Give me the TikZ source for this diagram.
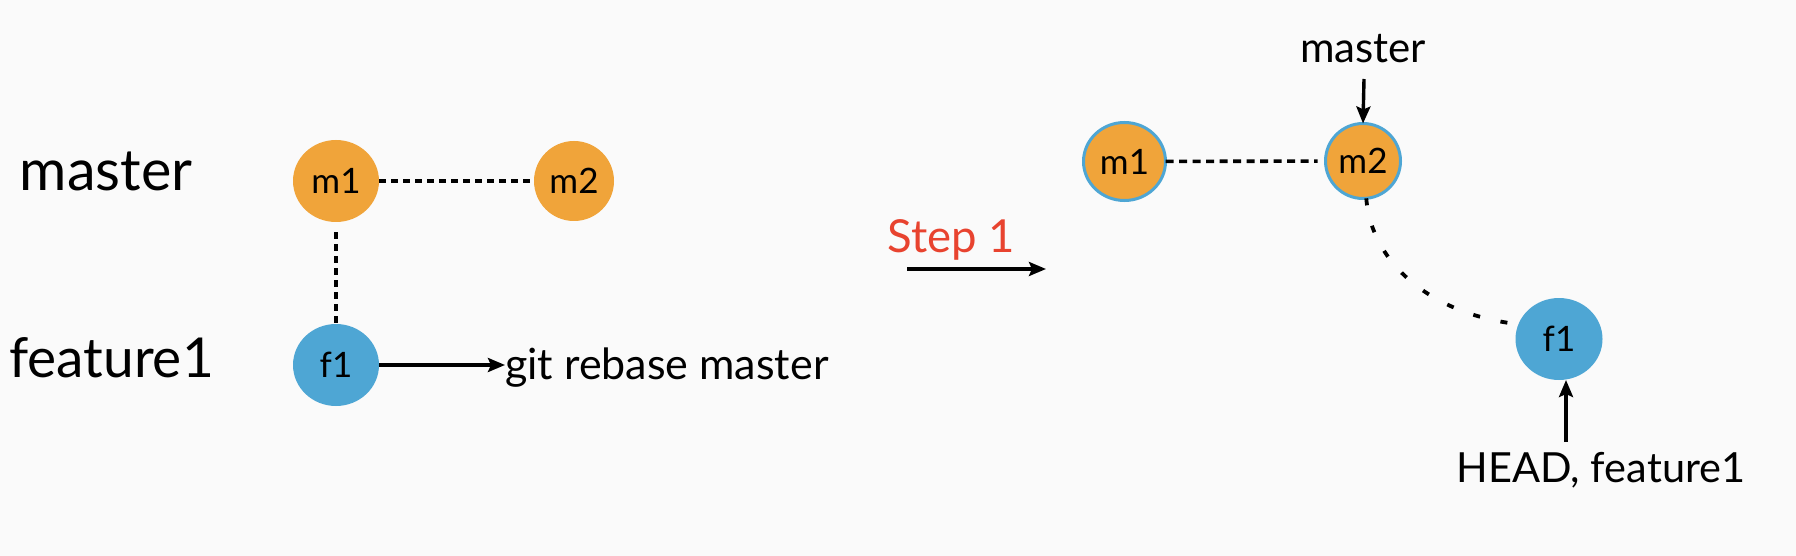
\documentclass[tikz,border=0pt]{standalone}
\usepackage{fontspec}
\setmainfont{Lato}
\usetikzlibrary{arrows.meta,shapes.geometric}
\definecolor{bgc}{HTML}{FAFAFA}
\definecolor{orangec}{HTML}{F0A43A}
\definecolor{bluec}{HTML}{4EA6D4}
\definecolor{stepred}{HTML}{E8432F}
\begin{document}
\begin{tikzpicture}[x=1pt,y=-1pt,
  gitcommit/.style={ellipse, inner sep=0pt, outer sep=0pt, font=\fontsize{35}{40}\selectfont},
  mcommit/.style={gitcommit, fill=orangec},
  fcommit/.style={gitcommit, fill=bluec},
  ringed/.style={draw=bluec, line width=3pt},
  dashlink/.style={line width=3.6pt, dash pattern=on 6.5pt off 5.5pt},
  curvelink/.style={line width=3.8pt, dash pattern=on 7pt off 21pt},
  pointer/.style={line width=3.4pt, -{Stealth[length=17pt,width=14pt,inset=3pt]}},
  bigtxt/.style={font=\fontsize{55}{62}\selectfont, anchor=base, inner sep=0pt},
  smalltxt/.style={font=\fontsize{42}{48}\selectfont, anchor=base, inner sep=0pt}]
\fill[bgc] (0,0) rectangle (1796,556);
\useasboundingbox (0,0) rectangle (1796,556);

% left part
\node[bigtxt, font=\fontsize{57.5}{62}\selectfont] (lmaster) at (106,191) {master};
\node[bigtxt] (lfeature) at (111.5,377) {feature1};
\node[mcommit, minimum width=86pt, minimum height=82pt] (m1) at (336,181) {m1};
\node[mcommit, minimum width=80pt, minimum height=80pt] (m2) at (574,181) {m2};
\node[fcommit, minimum width=86pt, minimum height=82pt] (f1) at (336,365) {f1};
\node[smalltxt, anchor=base west, font=\fontsize{43}{48}\selectfont] (git) at (505,379) {git rebase master};
\draw[dashlink] (m1) -- (m2);
\draw[dashlink, shorten <=10pt] (m1) -- (f1);
\draw[pointer] (f1.east) -- (f1.east -| git.west);

% step
\node[smalltxt, text=stepred, font=\fontsize{45.5}{50}\selectfont] (step) at (951,252) {Step 1};
\coordinate (sa) at (907,269);
\coordinate (sb) at (1046,269);
\draw[pointer] (sa) -- (sb);

% right part
\node[mcommit, ringed, minimum width=82pt, minimum height=78pt] (m1r) at (1124.5,161.5) {m1};
\node[mcommit, ringed, minimum width=75pt, minimum height=75pt] (m2r) at (1363,161) {m2};
\node[fcommit, minimum width=87pt, minimum height=82pt] (f1r) at (1559,339) {f1};
\node[smalltxt] (rmaster) at (1363,63) {master};
\node[smalltxt, font=\fontsize{41.5}{48}\selectfont] (head) at (1601,482) {HEAD, feature1};
\coordinate (mtop) at (1364,79);
\coordinate (hbot) at (1566,442);
\draw[dashlink, dash pattern=on 8pt off 5.5pt, shorten >=8pt] (m1r) -- (m2r);
\draw[curvelink] (m2r.-85) .. controls +(5,64) and +(-88,-10) .. (f1r.160);
\draw[pointer] (mtop) -- (m2r.north);
\draw[pointer] (hbot) -- (hbot |- f1r.south);
\end{tikzpicture}
\end{document}
